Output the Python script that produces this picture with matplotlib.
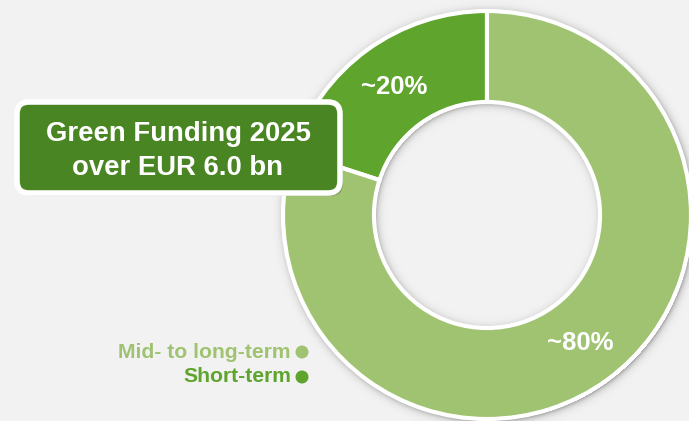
import numpy as np
import matplotlib
matplotlib.use("Agg")
import matplotlib.pyplot as plt
from matplotlib.patches import FancyBboxPatch, Circle
import matplotlib.patheffects as pe

plt.rcParams['font.family'] = ['Liberation Sans', 'DejaVu Sans']

# funding split
categories = ["Short-term", "Mid- to long-term"]
shares = [20, 80]
colors = ["#5fa52d", "#9fc370"]
title_lines = ["Green Funding 2025", "over EUR 6.0 bn"]

W, H = 689, 421
bg = "#f2f2f2"

fig = plt.figure(figsize=(W / 100, H / 100), dpi=100, facecolor=bg)
ax = fig.add_axes([0, 0, 1, 1])
ax.set_facecolor(bg)

cx, cy = 487, 206
R, r_in = 204, 113

# soft shadow around the ring
yy, xx = np.mgrid[0:H, 0:W] + 0.5
d = np.hypot(xx - cx - 1.5, yy - cy + 1.5)
alpha = np.zeros_like(d)
out = d > R
alpha[out] = 0.35 * np.exp(-(d[out] - R) / 3.0)
inn = d < r_in
alpha[inn] = 0.30 * np.exp(-(r_in - d[inn]) / 3.0)
shadow = np.zeros((H, W, 4))
shadow[..., 3] = alpha
ax.imshow(shadow, extent=(0, W, 0, H), origin="lower", zorder=0)

wedges, _, pct = ax.pie(
    shares, colors=colors, startangle=90, counterclock=True,
    radius=R, center=(cx, cy),
    wedgeprops=dict(width=R - r_in, edgecolor="white", linewidth=3),
    autopct=lambda p: f"~{p:.0f}%", pctdistance=0.775,
    textprops=dict(color="white", fontsize=18.5, fontweight="bold"),
)
for w in wedges:
    w.set_zorder(1)
for t in pct:
    t.set_zorder(2)

# title box
box = FancyBboxPatch((17, 228), 323, 91,
                     boxstyle="round,pad=0,rounding_size=12",
                     facecolor="#4a8523", edgecolor="white", linewidth=4,
                     zorder=3,
                     path_effects=[pe.SimplePatchShadow(offset=(2, -2), shadow_rgbFace="#000000", alpha=0.25),
                                   pe.Normal()])
ax.add_patch(box)
ax.text(178, 287, title_lines[0], ha="center", va="center", color="white",
        fontsize=19.8, fontweight="bold", zorder=4)
ax.text(178, 253, title_lines[1], ha="center", va="center", color="white",
        fontsize=19.8, fontweight="bold", zorder=4)

# legend, mid- to long-term on top
legend_y = [69, 44]
for name, col, y in zip(categories[::-1], colors[::-1], legend_y):
    ax.text(291, y, name, ha="right", va="center", color=col,
            fontsize=15.2, fontweight="bold", zorder=4)
    ax.add_patch(Circle((302, y), 6.5, facecolor=col, edgecolor="none", zorder=4))

ax.set_xlim(0, W)
ax.set_ylim(0, H)
ax.set_aspect("equal")
ax.axis("off")

fig.savefig("out.png", dpi=100, facecolor=bg)
